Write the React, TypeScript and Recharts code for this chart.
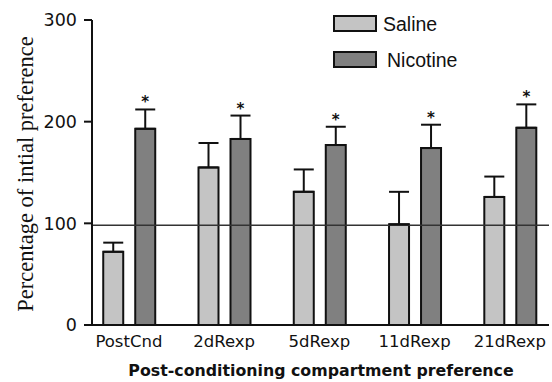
import {
  Bar,
  ComposedChart,
  ErrorBar,
  LabelList,
  ReferenceLine,
  XAxis,
  YAxis,
} from "recharts";

const categories = ["PostCnd", "2dRexp", "5dRexp", "11dRexp", "21dRexp"];
const saline = [72, 155, 131, 99, 126];
const salineErr = [9, 24, 22, 32, 20];
const nicotine = [193, 183, 177, 174, 194];
const nicotineErr = [19, 23, 18, 23, 23];
const yTicks = [0, 100, 200, 300];

const data = categories.map((name, i) => ({
  idx: i,
  name,
  saline: saline[i],
  salineErr: [0, salineErr[i]],
  nicotine: nicotine[i],
  nicotineErr: [0, nicotineErr[i]],
}));

const SALINE = "#c4c4c4";
const NICOTINE = "#808080";

function Star(props: any) {
  const { x, y, width, height, index } = props;
  const v = nicotine[index];
  const top = y - (nicotineErr[index] * height) / v;
  return (
    <text
      x={x + width / 2}
      y={top - 2}
      textAnchor="middle"
      fontSize={15}
      fontWeight="bold"
      fontFamily="DejaVu Sans"
      fill="#111"
    >
      *
    </text>
  );
}

// legend sits over the plot, top right of the y axis
function LegendBox() {
  const item = (color: string, label: string, top: number, textLeft: number) => (
    <>
      <div
        style={{
          position: "absolute",
          left: 333,
          top,
          width: 40,
          height: 13,
          background: color,
          border: "2px solid #111",
        }}
      />
      <div
        style={{
          position: "absolute",
          left: textLeft,
          top: top - 1.5,
          fontFamily: "Liberation Sans",
          fontSize: 19.5,
          lineHeight: "20px",
          color: "#111",
        }}
      >
        {label}
      </div>
    </>
  );
  return (
    <>
      {item(SALINE, "Saline", 15, 383)}
      {item(NICOTINE, "Nicotine", 51, 387)}
    </>
  );
}

export default function App() {
  return (
    <div style={{ position: "absolute", left: 0, top: 0, background: "#fff" }}>
      <ComposedChart
        width={552}
        height={382}
        data={data}
        margin={{ top: 20, right: 3, bottom: 0, left: 0 }}
        barGap={12}
      >
        <XAxis
          dataKey="idx"
          type="number"
          domain={[-0.387, 4.41]}
          allowDataOverflow
          ticks={[0, 1, 2, 3, 4]}
          tickFormatter={(i: number) => categories[i]}
          interval={0}
          height={57}
          tickLine={false}
          tickSize={0}
          tickMargin={10}
          axisLine={{ stroke: "#111", strokeWidth: 2 }}
          tick={{ fill: "#111", fontSize: 16.5, fontFamily: "DejaVu Sans" }}
          label={{
            content: () => (
              <text
                x={321}
                y={376}
                textAnchor="middle"
                fontSize={15.8}
                fontWeight="bold"
                fontFamily="DejaVu Sans"
                fill="#111"
              >
                Post-conditioning compartment preference
              </text>
            ),
          }}
        />
        <YAxis
          domain={[0, 300]}
          ticks={yTicks}
          width={92}
          tickSize={8}
          tickMargin={7}
          tickLine={{ stroke: "#111", strokeWidth: 2 }}
          axisLine={{ stroke: "#111", strokeWidth: 2 }}
          tick={{ fill: "#111", fontSize: 17.5, fontFamily: "DejaVu Sans" }}
          label={{
            content: () => (
              <text
                x={33}
                y={174}
                transform="rotate(-90 33 174)"
                textAnchor="middle"
                fontSize={22.5}
                fontFamily="Liberation Serif"
                fill="#111"
              >
                Percentage of intial preference
              </text>
            ),
          }}
        />
        <ReferenceLine y={98} stroke="#333" strokeWidth={1.5} />
        <Bar
          dataKey="saline"
          name="Saline"
          fill={SALINE}
          stroke="#111"
          strokeWidth={2}
          barSize={20}
          isAnimationActive={false}
        >
          <ErrorBar dataKey="salineErr" width={10} stroke="#111" strokeWidth={2} />
        </Bar>
        <Bar
          dataKey="nicotine"
          name="Nicotine"
          fill={NICOTINE}
          stroke="#111"
          strokeWidth={2}
          barSize={20}
          isAnimationActive={false}
        >
          <ErrorBar dataKey="nicotineErr" width={10} stroke="#111" strokeWidth={2} />
          <LabelList dataKey="nicotine" content={Star} />
        </Bar>
      </ComposedChart>
      <LegendBox />
    </div>
  );
}
